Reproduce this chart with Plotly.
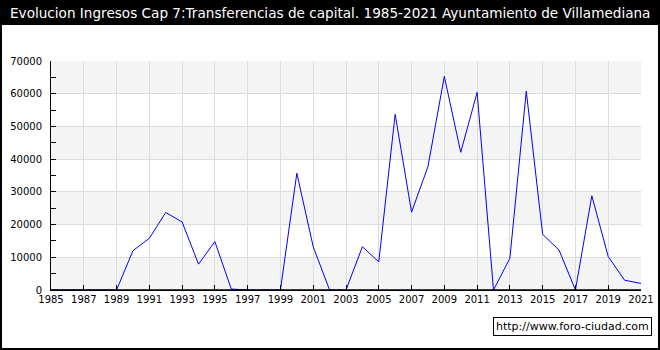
import plotly.graph_objects as go

years = list(range(1985, 2022))
values = [0, 0, 0, 0, 0, 12000, 15800, 23700, 20800, 7900, 14800, 300, 0, 0, 0,
          35700, 13200, 0, 0, 13200, 8600, 53700, 23800, 37700, 65300, 42100, 60400,
          0, 9700, 60800, 17000, 12200, 0, 28800, 10200, 3000, 2000]
x_ticks = list(range(1985, 2022, 2))
y_ticks = list(range(0, 70001, 10000))
title = "Evolucion Ingresos Cap 7:Transferencias de capital. 1985-2021 Ayuntamiento de Villamediana"
watermark = "http://www.foro-ciudad.com"

W, H = 660, 350
ml, mr, mt, mb = 51, 19, 61, 60
pw, ph = W - ml - mr, H - mt - mb

def px(xp):
    return (xp - ml) / pw

def py(yp):
    return (H - mb - yp) / ph

fig = go.Figure()
fig.add_trace(go.Scatter(x=years, y=values, mode="lines",
                         line=dict(color="#0000ff", width=1), hoverinfo="x+y"))

shapes = []
for i in range(0, len(y_ticks) - 1, 2):
    shapes.append(dict(type="rect", xref="paper", yref="y", x0=0, x1=1,
                       y0=y_ticks[i], y1=y_ticks[i + 1], fillcolor="#f4f4f4",
                       line=dict(width=0), layer="below"))
# baseline drawn over the series, like the reference axis
shapes.append(dict(type="line", xref="paper", yref="y", x0=0, x1=1, y0=0, y1=0,
                   line=dict(color="black", width=1.5), layer="above"))
# title bar
shapes.append(dict(type="rect", xref="paper", yref="paper", x0=px(0), x1=px(W),
                   y0=py(25), y1=py(0), fillcolor="black", line=dict(width=0)))
# outer frame
shapes.append(dict(type="rect", xref="paper", yref="paper", x0=px(1), x1=px(W - 1),
                   y0=py(H - 1), y1=py(1), line=dict(color="black", width=2)))

fig.update_layout(
    width=W, height=H,
    margin=dict(l=ml, r=mr, t=mt, b=mb, pad=0),
    paper_bgcolor="white", plot_bgcolor="white",
    showlegend=False,
    font=dict(family="DejaVu Sans", size=10, color="black"),
    shapes=shapes,
    annotations=[
        dict(text=title, xref="paper", yref="paper", x=px(W / 2), y=py(12.5),
             xanchor="center", yanchor="middle", showarrow=False,
             font=dict(family="DejaVu Sans", size=13.6, color="white")),
        dict(text=watermark, xref="paper", yref="paper", x=px(652), y=py(326.5),
             xanchor="right", yanchor="middle", showarrow=False,
             bgcolor="white", bordercolor="black", borderwidth=1, borderpad=2,
             font=dict(family="DejaVu Sans", size=11, color="black")),
    ],
    xaxis=dict(range=[1985, 2021], tickvals=x_ticks, ticks="inside", ticklen=5,
               tickcolor="black", showline=True, linecolor="black", linewidth=1,
               showgrid=True, gridcolor="#dcdcdc", gridwidth=1, zeroline=False,
               tickfont=dict(size=10), automargin=False, fixedrange=True),
    yaxis=dict(range=[0, 70000], tickvals=y_ticks, tickformat="d", ticks="inside",
               ticklen=5, tickcolor="black", showline=True, linecolor="black",
               linewidth=1, showgrid=True, gridcolor="#dcdcdc", gridwidth=1,
               zeroline=False, tickfont=dict(size=10), ticklabelstandoff=6,
               automargin=False,
               minor=dict(tickvals=list(range(5000, 70000, 10000)), ticks="inside",
                          ticklen=5, tickcolor="black", showgrid=False),
               fixedrange=True),
)

fig.write_html("out.html", config={"displayModeBar": False},
               post_script="document.body.style.margin='0';")
